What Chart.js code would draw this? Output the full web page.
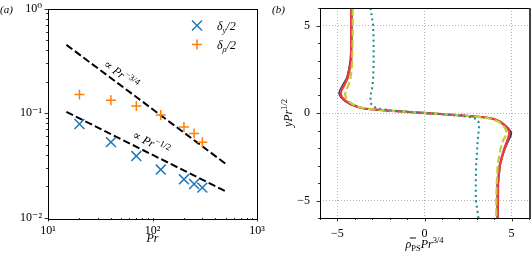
<!DOCTYPE html>
<html>
<head>
<meta charset="utf-8">
<script src="https://cdn.jsdelivr.net/npm/chart.js@4.4.0/dist/chart.umd.min.js"></script>
<style>
  body { margin: 0; background: #fff; }
  #wrap { position: relative; width: 531px; height: 254px; }
  #chartA { position: absolute; left: 0; top: 0; }
  #chartB { position: absolute; left: 270px; top: 0; }
</style>
</head>
<body>
<div id="wrap">
  <canvas id="chartA" width="270" height="254"></canvas>
  <canvas id="chartB" width="261" height="254"></canvas>
</div>
<script>
// panel (a): boundary layer thickness vs Pr
const prValues = [20, 40, 70, 120, 200, 250, 300];
const deltaYHalf = [0.079, 0.053, 0.039, 0.029, 0.0234, 0.0211, 0.0195];
const deltaRhoHalf = [0.151, 0.133, 0.117, 0.096, 0.074, 0.064, 0.053];
const fitPr = [15, 500];
const fitMinus34 = [0.45, 0.033];
const fitMinus12 = [0.103, 0.018];
const decadesX = [10, 100, 1000];
const decadesY = [0.01, 0.1, 1];

// panel (b): rescaled density profiles, x read at each y level
const yLevels = [6, 5, 4, 3, 2.5, 2, 1.6, 1.3, 1.1, 0.9, 0.7, 0.5, 0.35, 0.25, 0.15, 0.05, 0,
    -0.05, -0.15, -0.25, -0.35, -0.5, -0.7, -0.9, -1.1, -1.3, -1.6, -2, -2.5, -3, -4, -5, -6];
const profileDark = [-4.18, -4.18, -4.2, -4.25, -4.33, -4.45, -4.68, -4.85, -4.9, -4.8, -4.58, -4.25, -3.85, -3.45, -2.3, -0.8, 0,
    0.8, 2.3, 3.45, 4.0, 4.35, 4.6, 4.82, 4.98, 4.95, 4.8, 4.62, 4.45, 4.32, 4.22, 4.2, 4.2];
const profileRed = [-4.2, -4.2, -4.2, -4.22, -4.3, -4.42, -4.6, -4.78, -4.82, -4.75, -4.55, -4.2, -3.85, -3.45, -2.3, -0.8, 0,
    0.8, 2.3, 3.5, 4.0, 4.35, 4.6, 4.8, 4.88, 4.85, 4.75, 4.6, 4.45, 4.32, 4.22, 4.2, 4.2];
const profileYellow = [-4.12, -4.12, -4.13, -4.15, -4.18, -4.25, -4.36, -4.5, -4.56, -4.52, -4.4, -4.12, -3.8, -3.4, -2.2, -0.75, 0,
    0.75, 2.2, 3.4, 3.9, 4.25, 4.5, 4.65, 4.7, 4.65, 4.5, 4.38, 4.28, 4.2, 4.15, 4.12, 4.12];
const profileTeal = [-3.1, -2.95, -2.92, -2.92, -2.93, -2.95, -2.98, -3.03, -3.08, -3.1, -3.1, -3.05, -2.9, -2.6, -2.0, -0.7, 0,
    0.7, 2.0, 2.7, 3.0, 3.1, 3.12, 3.13, 3.1, 3.08, 3.05, 3.03, 3.0, 2.96, 2.94, 2.95, 3.1];

const SERIF = '"Liberation Serif", "DejaVu Serif", serif';
const supMap = { '-': '\u207B', '0': '\u2070', '1': '\u00B9', '2': '\u00B2', '3': '\u00B3' };

function font(size, italic) {
    return (italic ? 'italic ' : '') + size + 'px ' + SERIF;
}

// draws a list of [text, size, italic, dy] pieces one after another
function richText(ctx, parts, x, y, align) {
    let total = 0;
    const widths = parts.map(p => {
        ctx.font = font(p[1], p[2]);
        const w = ctx.measureText(p[0]).width;
        total += w;
        return w;
    });
    let cx = align === 'center' ? x - total / 2 : (align === 'right' ? x - total : x);
    ctx.textAlign = 'left';
    parts.forEach((p, i) => {
        ctx.font = font(p[1], p[2]);
        ctx.fillText(p[0], cx, y + (p[3] || 0));
        cx += widths[i];
    });
}

function frameAndTicks(isMajor) {
    return {
        id: 'frameTicks',
        afterDraw(chart) {
            const ctx = chart.ctx, a = chart.chartArea;
            const xs = chart.scales.x, ys = chart.scales.y;
            ctx.save();
            ctx.strokeStyle = '#000';
            ctx.lineWidth = 0.8;
            ctx.beginPath();
            xs.ticks.forEach(t => {
                const p = Math.round(xs.getPixelForValue(t.value)) + 0.5;
                ctx.moveTo(p, a.bottom);
                ctx.lineTo(p, a.bottom + (isMajor(t.value) ? 3.5 : 2));
            });
            ys.ticks.forEach(t => {
                const p = Math.round(ys.getPixelForValue(t.value)) + 0.5;
                ctx.moveTo(a.left, p);
                ctx.lineTo(a.left - (isMajor(t.value) ? 3.5 : 2), p);
            });
            ctx.stroke();
            ctx.lineWidth = 1;
            ctx.strokeRect(Math.round(a.left) + 0.5, Math.round(a.top) + 0.5,
                Math.round(a.right - a.left), Math.round(a.bottom - a.top));
            ctx.restore();
        }
    };
}

const panelAText = {
    id: 'panelAText',
    afterDraw(chart) {
        const ctx = chart.ctx, a = chart.chartArea;
        const xs = chart.scales.x, ys = chart.scales.y;
        ctx.save();
        ctx.fillStyle = '#000';
        ctx.textBaseline = 'alphabetic';
        richText(ctx, [['(a)', 11, true]], 0, 13, 'left');
        richText(ctx, [['Pr', 12, true]], (a.left + a.right) / 2, 242, 'center');

        // slope labels, rotated along their dashed lines
        const notes = [
            [fitMinus34, [50, 0.235], '\u22123/4'],
            [fitMinus12, [97, 0.0523], '\u22121/2']
        ];
        notes.forEach(n => {
            const x0 = xs.getPixelForValue(fitPr[0]), x1 = xs.getPixelForValue(fitPr[1]);
            const y0 = ys.getPixelForValue(n[0][0]), y1 = ys.getPixelForValue(n[0][1]);
            const ang = Math.atan2(y1 - y0, x1 - x0);
            ctx.save();
            ctx.translate(xs.getPixelForValue(n[1][0]), ys.getPixelForValue(n[1][1]));
            ctx.rotate(ang);
            richText(ctx, [['\u221D ', 12, false], ['Pr', 12, true], [n[2], 9, false, -5]], 0, 4, 'center');
            ctx.restore();
        });

        // legend
        const lx = a.right - 60;
        ctx.lineWidth = 1.5;
        ctx.strokeStyle = '#1f77b4';
        ctx.beginPath();
        ctx.moveTo(lx - 5, a.top + 12); ctx.lineTo(lx + 5, a.top + 22);
        ctx.moveTo(lx - 5, a.top + 22); ctx.lineTo(lx + 5, a.top + 12);
        ctx.stroke();
        ctx.strokeStyle = '#ff7f0e';
        ctx.beginPath();
        ctx.moveTo(lx - 5, a.top + 36); ctx.lineTo(lx + 5, a.top + 36);
        ctx.moveTo(lx, a.top + 31); ctx.lineTo(lx, a.top + 41);
        ctx.stroke();
        richText(ctx, [['\u03B4', 12, true], ['y', 8.5, true, 3], ['/2', 12, true]], lx + 20, a.top + 21, 'left');
        richText(ctx, [['\u03B4', 12, true], ['\u03C1', 8.5, true, 3], ['/2', 12, true]], lx + 20, a.top + 40, 'left');
        ctx.restore();
    }
};

const panelBText = {
    id: 'panelBText',
    afterDraw(chart) {
        const ctx = chart.ctx, a = chart.chartArea;
        ctx.save();
        ctx.fillStyle = '#000';
        ctx.textBaseline = 'alphabetic';
        richText(ctx, [['(b)', 11, true]], 2, 13, 'left');
        richText(ctx, [['\u03C1\u033F', 12, true], ['PS', 8.5, false, 3], ['Pr', 12, true], ['3/4', 8.5, false, -5]],
            (a.left + a.right) / 2, 248, 'center');
        ctx.translate(22, (a.top + a.bottom) / 2);
        ctx.rotate(-Math.PI / 2);
        richText(ctx, [['y', 12, true], ['Pr', 12, true], ['1/2', 8.5, false, -5]], 0, 0, 'center');
        ctx.restore();
        // right spine is darker and heavier in the figure
        ctx.save();
        ctx.strokeStyle = '#444';
        ctx.lineWidth = 2;
        ctx.beginPath();
        ctx.moveTo(Math.round(a.right) + 1, a.top);
        ctx.lineTo(Math.round(a.right) + 1, a.bottom + 1);
        ctx.stroke();
        ctx.restore();
    }
};

function supStr(n) {
    return String(n).split('').map(c => supMap[c]).join('');
}

function logTicks(decades) {
    const out = [];
    decades.forEach((d, i) => {
        out.push({ value: d, major: true });
        if (i < decades.length - 1) {
            for (let k = 2; k <= 9; k++) out.push({ value: k * d, major: false });
        }
    });
    return out;
}

// fix axis sizes so the plot boxes land where they do in the figure
function fixX(h) {
    return s => { s.height = h; s.paddingLeft = 0; s.paddingRight = 0; };
}
function fixY(w) {
    return s => { s.width = w; s.paddingTop = 0; s.paddingBottom = 0; };
}

const pairs = (xs, ys) => xs.map((x, i) => ({ x: x, y: ys[i] }));

const chartA = new Chart(document.getElementById('chartA'), {
    type: 'scatter',
    data: {
        datasets: [
            {
                label: '\u03B4y/2',
                data: pairs(prValues, deltaYHalf),
                pointStyle: 'crossRot',
                pointRadius: 7,
                pointBorderWidth: 1.5,
                pointBorderColor: '#1f77b4',
                borderColor: '#1f77b4'
            },
            {
                label: '\u03B4\u03C1/2',
                data: pairs(prValues, deltaRhoHalf),
                pointStyle: 'cross',
                pointRadius: 5,
                pointBorderWidth: 1.5,
                pointBorderColor: '#ff7f0e',
                borderColor: '#ff7f0e'
            },
            {
                label: 'Pr^-3/4',
                data: pairs(fitPr, fitMinus34),
                showLine: true,
                borderColor: '#000',
                borderWidth: 2,
                borderDash: [7.4, 3.2],
                pointRadius: 0
            },
            {
                label: 'Pr^-1/2',
                data: pairs(fitPr, fitMinus12),
                showLine: true,
                borderColor: '#000',
                borderWidth: 2,
                borderDash: [7.4, 3.2],
                pointRadius: 0
            }
        ]
    },
    options: {
        responsive: false,
        devicePixelRatio: 1,
        animation: false,
        events: [],
        layout: { padding: { left: 0, right: 13, top: 8, bottom: 0 } },
        plugins: { legend: { display: false }, tooltip: { enabled: false } },
        scales: {
            x: {
                type: 'logarithmic',
                min: 10,
                max: 1000,
                afterBuildTicks: s => { s.ticks = logTicks(decadesX); },
                afterFit: fixX(36),
                grid: { display: false, drawTicks: false },
                border: { display: false },
                ticks: {
                    autoSkip: false,
                    maxRotation: 0,
                    padding: 6,
                    color: '#000',
                    font: { family: SERIF, size: 12 },
                    callback: v => decadesX.includes(v) ? '10' + supStr(Math.round(Math.log10(v))) : ''
                }
            },
            y: {
                type: 'logarithmic',
                min: 0.01,
                max: 1,
                afterBuildTicks: s => { s.ticks = logTicks(decadesY); },
                afterFit: fixY(48),
                grid: { display: false, drawTicks: false },
                border: { display: false },
                ticks: {
                    autoSkip: false,
                    padding: 6,
                    color: '#000',
                    font: { family: SERIF, size: 12 },
                    callback: v => decadesY.includes(v) ? '10' + supStr(Math.round(Math.log10(v))) : ''
                }
            }
        }
    },
    plugins: [frameAndTicks(v => decadesX.includes(v) || decadesY.includes(v)), panelAText]
});

function profile(xs, color, width, dash, order) {
    return {
        data: pairs(xs, yLevels),
        showLine: true,
        borderColor: color,
        borderWidth: width,
        borderDash: dash,
        pointRadius: 0,
        tension: 0,
        order: order
    };
}

const gridColor = ctx => (ctx.tick && ctx.tick.value % 5 === 0) ? '#b4b4b4' : 'rgba(0,0,0,0)';
const minusLabel = v => v % 5 === 0 ? (v < 0 ? '\u2212' + (-v) : String(v)) : '';

const chartB = new Chart(document.getElementById('chartB'), {
    type: 'scatter',
    data: {
        datasets: [
            profile(profileDark, '#2f3b48', 2, [], 4),
            profile(profileRed, '#e63a4a', 2.5, [], 3),
            profile(profileYellow, '#c4cc36', 2.2, [7.4, 3.2], 2),
            profile(profileTeal, '#1b8a8a', 2, [2, 3.3], 1)
        ]
    },
    options: {
        responsive: false,
        devicePixelRatio: 1,
        animation: false,
        events: [],
        layout: { padding: { left: 0, right: 2, top: 8, bottom: 0 } },
        plugins: { legend: { display: false }, tooltip: { enabled: false } },
        scales: {
            x: {
                min: -6,
                max: 6,
                afterFit: fixX(36),
                grid: { color: gridColor, lineWidth: 1, drawTicks: false, borderDash: [1, 2] },
                border: { display: false, dash: [1, 2] },
                ticks: {
                    stepSize: 1,
                    autoSkip: false,
                    maxRotation: 0,
                    padding: 9,
                    color: '#000',
                    font: { family: SERIF, size: 12 },
                    callback: minusLabel
                }
            },
            y: {
                min: -6,
                max: 6,
                afterFit: fixY(50),
                grid: { color: gridColor, lineWidth: 1, drawTicks: false, borderDash: [1, 2] },
                border: { display: false, dash: [1, 2] },
                ticks: {
                    stepSize: 1,
                    autoSkip: false,
                    padding: 10,
                    color: '#000',
                    font: { family: SERIF, size: 12 },
                    callback: minusLabel
                }
            }
        }
    },
    plugins: [frameAndTicks(v => v % 5 === 0), panelBText]
});
</script>
</body>
</html>
